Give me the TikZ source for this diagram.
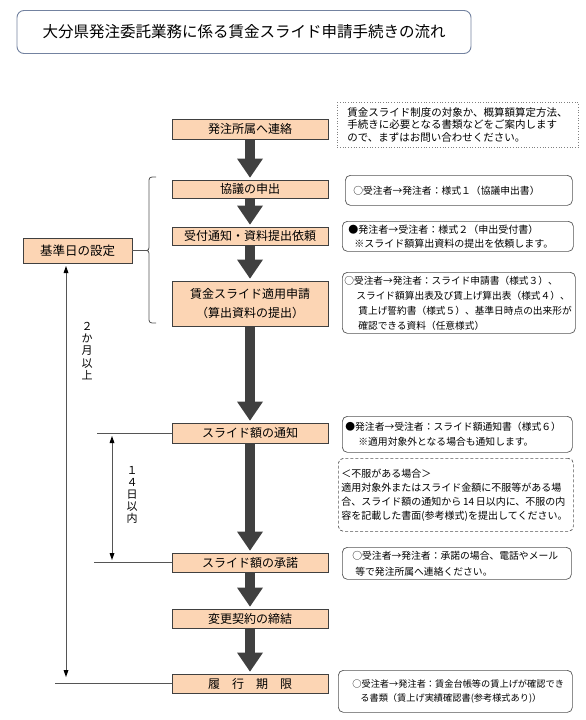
\documentclass[tikz,border=0pt]{standalone}
\usepackage{fontspec}
\setmainfont{Noto Sans CJK JP}
\usetikzlibrary{arrows.meta}
\definecolor{peach}{RGB}{252,213,180}
\definecolor{darr}{RGB}{64,64,64}
\definecolor{tborder}{RGB}{115,130,160}
\definecolor{lgray}{RGB}{85,85,85}
\begin{document}
\begin{tikzpicture}[x=1pt,y=-1pt,
  flow/.style={draw=darr, line width=0.8pt, fill=peach, minimum width=156pt, inner sep=0pt, align=center, font=\fontsize{12}{15}\selectfont},
  note/.style={draw=lgray, line width=0.7pt, rounded corners=5pt, anchor=north west, inner xsep=2pt, inner ysep=1pt, align=left},
  bigarr/.style={draw=darr, line width=10pt, -{Triangle[width=26pt,length=19pt,line width=0pt]}, shorten >=2pt},
  thinl/.style={draw=lgray, line width=0.8pt},
  dbl/.style={thinl, {Triangle[width=5pt,length=7pt,color=black,line width=0pt]}-{Triangle[width=5pt,length=7pt,color=black,line width=0pt]}},
  vlab/.style={align=center, inner sep=0pt, font=\fontsize{11}{12.2}\selectfont}
]
\useasboundingbox (0,0) rectangle (586,720);

% title
\node[draw=tborder, line width=0.9pt, rounded corners=7pt, minimum width=454pt, minimum height=43pt, font=\fontsize{15.5}{18}\selectfont] (title) at (244,32) {大分県発注委託業務に係る賃金スライド申請手続きの流れ};

% main flow
\node[flow, minimum height=20pt] (b1) at (250,129) {発注所属へ連絡};
\node[flow, minimum height=18pt] (b2) at (250,189) {協議の申出};
\node[flow, minimum height=18pt] (b3) at (250,236) {受付通知・資料提出依頼};
\node[flow, minimum height=45pt, font=\fontsize{12}{19}\selectfont] (b4) at (250,303.5) {賃金スライド適用申請\\（算出資料の提出）};
\node[flow, minimum height=20pt] (b5) at (250,433) {スライド額の通知};
\node[flow, minimum height=19pt] (b6) at (250,562.5) {スライド額の承諾};
\node[flow, minimum height=19pt] (b7) at (250,618.5) {変更契約の締結};
\node[flow, minimum height=19pt] (b8) at (250,683.5) {履　行　期　限};

\foreach \a/\b in {b1/b2,b2/b3,b3/b4,b4/b5,b5/b6,b6/b7,b7/b8}
  \draw[bigarr] (\a.south) -- (\b.north);

% left side
\node[flow, minimum width=109pt, minimum height=25pt, font=\fontsize{12.5}{15}\selectfont] (kijun) at (77.5,250.5) {基準日の設定};
\coordinate (cusp) at (144,250.5);
\draw[thinl] (kijun.east) -- (cusp);
\draw[thinl] (156,177) .. controls (149,177) .. (149,183) -- (149,244) .. controls (149,250.5) .. (cusp) .. controls (149,250.5) .. (149,257) -- (149,317) .. controls (149,323) .. (156,323);

\coordinate (vtop) at (66,266);
\coordinate (vbot) at (66,677);
\draw[dbl] (vtop) -- (vbot);
\coordinate (hl8) at (55,683.5);
\draw[thinl] (hl8) -- (b8.west);
\node[vlab] (lab2m) at (87,351) {２\\か\\月\\以\\上};

\coordinate (hl5) at (97,433);
\draw[thinl] (hl5) -- (b5.west);
\coordinate (hl6) at (94,562.5);
\draw[thinl] (hl6) -- (b6.west);
\coordinate (d14a) at (112,436);
\coordinate (d14b) at (112,560);
\draw[dbl] (d14a) -- (d14b);
\node[vlab] (lab14) at (132,495) {１\\４\\日\\以\\内};

% notes
\node[note, draw=gray, dotted, sharp corners, text width=237pt, minimum height=45pt, font=\fontsize{10.5}{12.5}\selectfont] (nA) at (337,102)
 {\hspace*{8pt}賃金スライド制度の対象か、概算額算定方法、\\\hspace*{8pt}手続きに必要となる書類などをご案内します\\\hspace*{8pt}ので、まずはお問い合わせください。};
\node[note, text width=223pt, minimum height=30pt, font=\fontsize{9.8}{14}\selectfont] (nB) at (345,175)
 {\hspace*{6pt}○受注者→発注者：様式１（協議申出書）};
\node[note, text width=227pt, minimum height=30pt, font=\fontsize{10}{14}\selectfont] (nC) at (342,221)
 {\hspace*{4pt}●発注者→受注者：様式２（申出受付書）\\\hspace*{10pt}※スライド額算出資料の提出を依頼します。};
\node[note, text width=229pt, minimum height=61pt, font=\fontsize{9.7}{15}\selectfont] (nD) at (342,272)
 {○受注者→発注者：スライド申請書（様式３）、\\\hspace*{12pt}スライド額算出表及び賃上げ算出表（様式４）、\\\hspace*{14pt}賃上げ誓約書（様式５）、基準日時点の出来形が\\\hspace*{14pt}確認できる資料（任意様式）};
\node[note, text width=226pt, minimum height=36pt, font=\fontsize{9.8}{15}\selectfont] (nE) at (342,416)
 {\hspace*{1pt}●発注者→受注者：スライド額通知書（様式６）\\\hspace*{14pt}※適用対象外となる場合も通知します。};
\node[note, dash pattern=on 3pt off 2pt, text width=231pt, minimum height=73pt, font=\fontsize{10}{14}\selectfont] (nF) at (338,458)
 {\hspace*{1pt}＜不服がある場合＞\\\hspace*{1pt}適用対象外またはスライド金額に不服等がある場\\\hspace*{1pt}合、スライド額の通知から\,14\,日以内に、不服の内\\\hspace*{1pt}容を記載した書面(参考様式)を提出してください。};
\node[note, text width=225pt, minimum height=32pt, font=\fontsize{9.8}{16}\selectfont] (nG) at (342,547)
 {\hspace*{8pt}○受注者→発注者：承諾の場合、電話やメール\\\hspace*{11pt}等で発注所属へ連絡ください。};
\node[note, text width=230pt, minimum height=42pt, font=\fontsize{9.2}{14}\selectfont] (nH) at (338,670)
 {\hspace*{12pt}○受注者→発注者：賃金台帳等の賃上げが確認でき\\\hspace*{20pt}る書類（賃上げ実績確認書(参考様式あり)）};
\end{tikzpicture}
\end{document}
